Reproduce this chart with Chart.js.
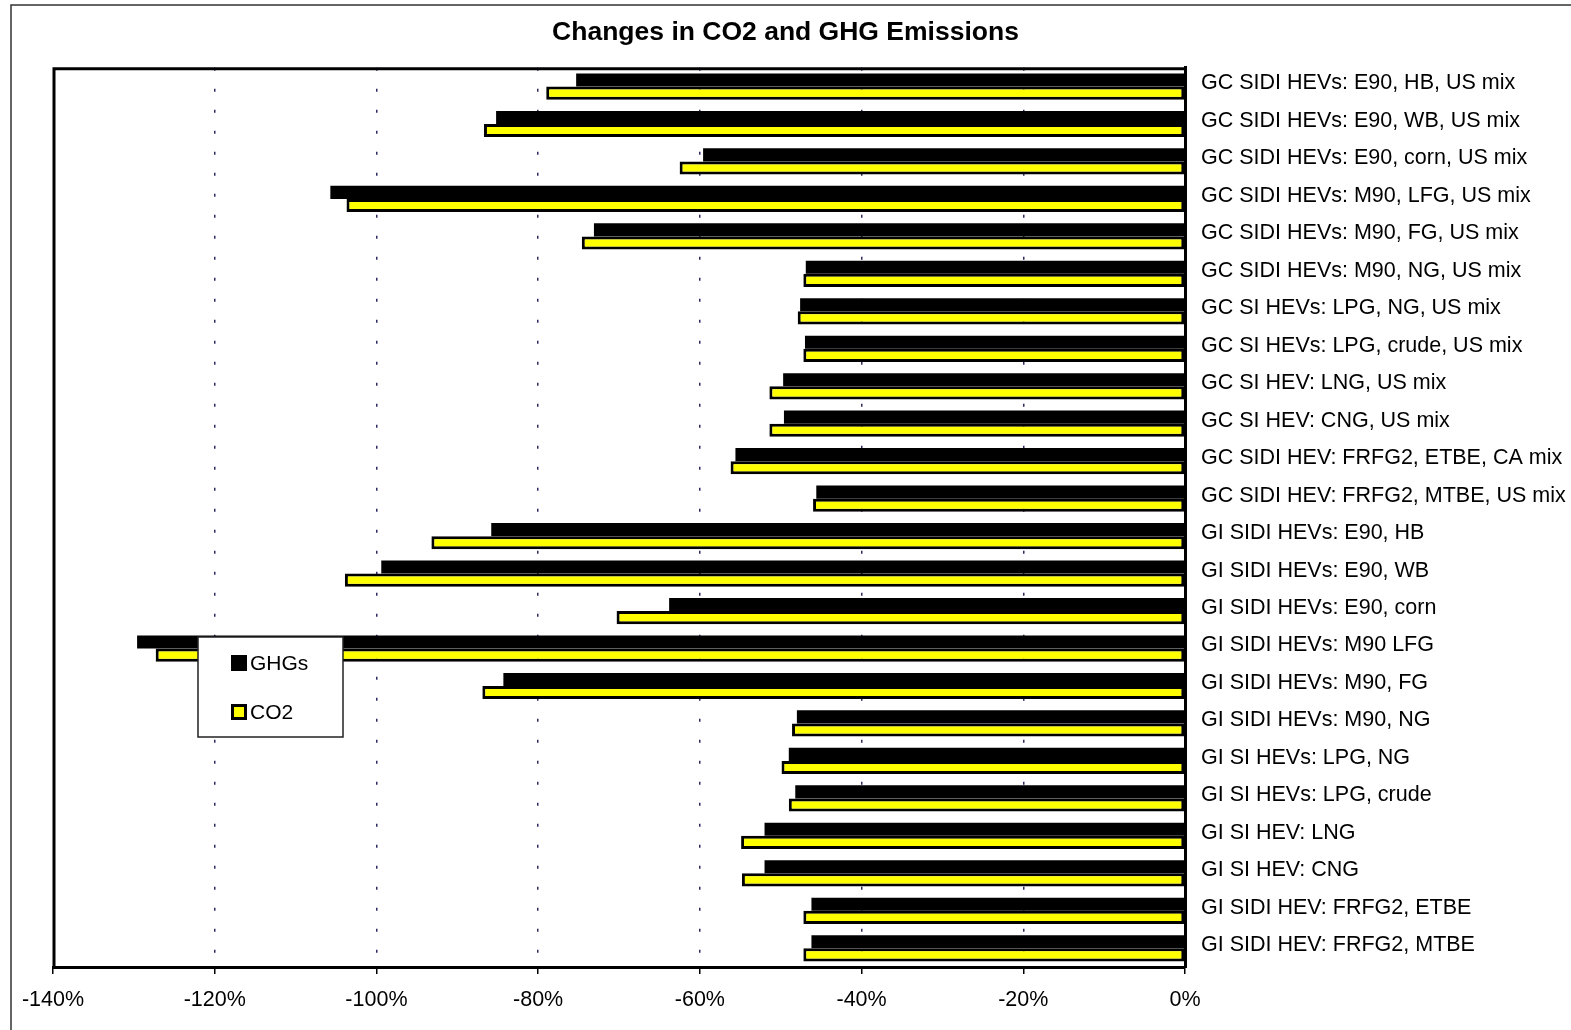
<!DOCTYPE html>
<html lang="en">
<head>
    <meta charset="UTF-8">
    <title>Changes in CO2 and GHG Emissions</title>
    <script src="https://cdn.jsdelivr.net/npm/chart.js"></script>
    <style>
        html, body { margin: 0; padding: 0; background: #fff; }
    </style>
</head>
<body>

<canvas id="chart" width="1571" height="1030"></canvas>

<script>
    // Categories, top to bottom
    const categories = [
        'GC SIDI HEVs: E90, HB, US mix',
        'GC SIDI HEVs: E90, WB, US mix',
        'GC SIDI HEVs: E90, corn, US mix',
        'GC SIDI HEVs: M90, LFG, US mix',
        'GC SIDI HEVs: M90, FG, US mix',
        'GC SIDI HEVs: M90, NG, US mix',
        'GC SI HEVs: LPG, NG, US mix',
        'GC SI HEVs: LPG, crude, US mix',
        'GC SI HEV: LNG, US mix',
        'GC SI HEV: CNG, US mix',
        'GC SIDI HEV: FRFG2, ETBE, CA mix',
        'GC SIDI HEV: FRFG2, MTBE, US mix',
        'GI SIDI HEVs: E90, HB',
        'GI SIDI HEVs: E90, WB',
        'GI SIDI HEVs: E90, corn',
        'GI SIDI HEVs: M90 LFG',
        'GI SIDI HEVs: M90, FG',
        'GI SIDI HEVs: M90, NG',
        'GI SI HEVs: LPG, NG',
        'GI SI HEVs: LPG, crude',
        'GI SI HEV: LNG',
        'GI SI HEV: CNG',
        'GI SIDI HEV: FRFG2, ETBE',
        'GI SIDI HEV: FRFG2, MTBE'
    ];

    // % change
    const ghgValues = [
        -75.3, -85.2, -59.6, -105.7, -73.1, -46.9, -47.6, -47.0, -49.7, -49.6, -55.6, -45.6,
        -85.8, -99.4, -63.8, -129.6, -84.3, -48.0, -49.0, -48.2, -52.0, -52.0, -46.2, -46.2
    ];
    const co2Values = [
        -79.0, -86.7, -62.5, -103.7, -74.6, -47.2, -47.9, -47.2, -51.4, -51.4, -56.2, -46.0,
        -93.2, -103.9, -70.3, -127.3, -86.9, -48.6, -49.9, -49.0, -54.9, -54.8, -47.2, -47.2
    ];

    // x axis ticks
    const xMin = -140, xMax = 0, xStep = 20;

    const FONT = '"Liberation Sans", Arial, Helvetica, sans-serif';

    // page frame + plot area border (left and top edges)
    const frame = {
        id: 'frame',
        beforeDraw(chart) {
            const c = chart.ctx;
            c.save();
            c.fillStyle = '#fff';
            c.fillRect(0, 0, chart.width, chart.height);
            c.strokeStyle = '#333';
            c.lineWidth = 1.5;
            c.beginPath();
            c.moveTo(11, chart.height);
            c.lineTo(11, 5);
            c.lineTo(chart.width, 5);
            c.stroke();
            c.restore();
        },
        afterDatasetsDraw(chart) {
            const a = chart.chartArea;
            const c = chart.ctx;
            c.save();
            c.strokeStyle = '#000';
            c.lineWidth = 3;
            c.beginPath();
            c.moveTo(a.left + 1, a.bottom);
            c.lineTo(a.left + 1, a.top + 1);
            c.lineTo(a.right, a.top + 1);
            c.stroke();
            c.restore();
        }
    };

    // boxed legend sitting inside the plot
    const boxLegend = {
        id: 'boxLegend',
        afterDraw(chart, args, o) {
            const c = chart.ctx;
            c.save();
            c.fillStyle = '#fff';
            c.fillRect(o.x, o.y, o.w, o.h);
            c.strokeStyle = '#222';
            c.lineWidth = 1.5;
            c.strokeRect(o.x, o.y, o.w, o.h);
            c.font = '21px ' + FONT;
            c.textBaseline = 'middle';
            chart.data.datasets.forEach((ds, i) => {
                const cy = o.y + 26 + i * 49;
                c.fillStyle = '#000';
                c.fillRect(o.x + 33, cy - 8, 16, 16);
                if (ds.backgroundColor !== '#000') {
                    c.fillStyle = ds.backgroundColor;
                    c.fillRect(o.x + 36, cy - 5, 10, 10);
                }
                c.fillStyle = '#000';
                c.fillText(ds.label, o.x + 52, cy + 1);
            });
            c.restore();
        }
    };

    new Chart(document.getElementById('chart'), {
        type: 'bar',
        data: {
            labels: categories,
            datasets: [
                {
                    label: 'GHGs',
                    data: ghgValues,
                    backgroundColor: '#000',
                    borderColor: '#000',
                    borderWidth: 0
                },
                {
                    label: 'CO2',
                    data: co2Values,
                    backgroundColor: '#ffff00',
                    borderColor: '#000',
                    borderWidth: 3,
                    borderSkipped: false
                }
            ]
        },
        options: {
            indexAxis: 'y',
            responsive: false,
            animation: false,
            categoryPercentage: 0.7,
            barPercentage: 1.0,
            layout: { padding: { left: 0, right: 0, top: 5, bottom: 0 } },
            plugins: {
                legend: { display: false },
                tooltip: { enabled: false },
                title: {
                    display: true,
                    text: 'Changes in CO2 and GHG Emissions',
                    color: '#000',
                    font: { family: FONT, size: 26.5, weight: 'bold' },
                    padding: { top: 12, bottom: 19 }
                },
                boxLegend: { x: 198, y: 637, w: 145, h: 100 }
            },
            scales: {
                x: {
                    min: xMin,
                    max: xMax,
                    ticks: {
                        stepSize: xStep,
                        color: '#000',
                        padding: 13,
                        font: { family: FONT, size: 21.5 },
                        callback: v => v + '%'
                    },
                    grid: {
                        color: ctx => (ctx.tick && (ctx.tick.value === xMin || ctx.tick.value === xMax)) ? 'rgba(0,0,0,0)' : '#2b2b60',
                        lineWidth: 1.5,
                        tickLength: 7,
                        tickColor: '#000',
                        tickWidth: 1.5,
                        tickBorderDash: []
                    },
                    border: { display: true, color: '#000', width: 3, dash: [3, 18] },
                    afterFit: s => { s.height = 63; s.paddingLeft = 53; }
                },
                y: {
                    position: 'right',
                    ticks: {
                        color: '#000',
                        padding: 16,
                        labelOffset: -3,
                        font: { family: FONT, size: 21.5 }
                    },
                    grid: { display: false, drawTicks: false },
                    border: { display: true, color: '#000', width: 3 },
                    afterFit: s => { s.width = 386; }
                }
            }
        },
        plugins: [frame, boxLegend]
    });
</script>

</body>
</html>
